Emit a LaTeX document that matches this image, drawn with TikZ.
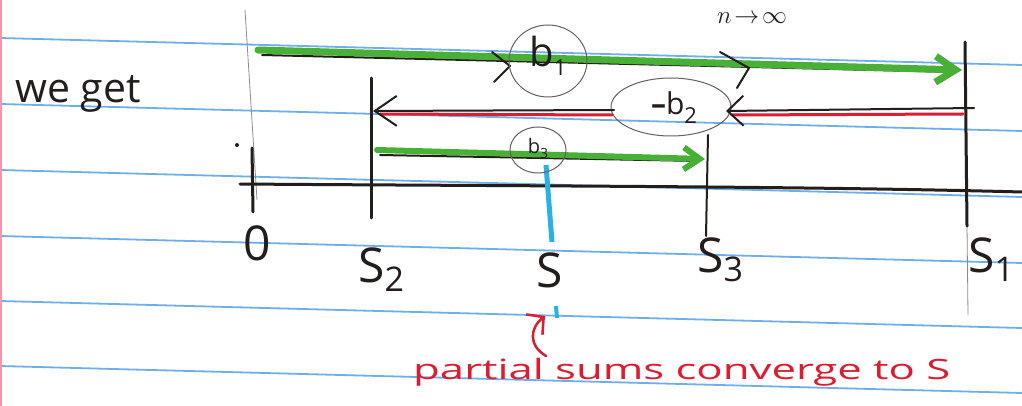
\documentclass[tikz,border=0pt]{standalone}
\usepackage{fontspec}
\setmainfont{Open Sans}
\usetikzlibrary{arrows.meta,shapes.geometric}
\definecolor{inkc}{RGB}{35,30,28}
\definecolor{greenc}{RGB}{72,175,55}
\definecolor{redc}{RGB}{222,28,48}
\definecolor{rulec}{RGB}{110,175,235}
\definecolor{cyanc}{RGB}{40,178,228}
\definecolor{pencilc}{RGB}{140,140,140}
\definecolor{marginc}{RGB}{245,150,170}
\begin{document}
\begin{tikzpicture}[x=1pt,y=-1pt,
  ink/.style={line width=3pt,color=inkc,line cap=round},
  thinink/.style={line width=2pt,color=inkc,line cap=round},
  rulestyle/.style={line width=1.8pt,color=rulec},
  pencil/.style={line width=0.8pt,color=pencilc},
  marker/.style={line width=7pt,color=greenc,line cap=round},
  redline/.style={line width=3pt,color=redc,line cap=round},
  bubble/.style={draw=inkc!70,line width=1pt,ellipse},
  chev/.style={thinink,line join=round},
  lbl/.style={inner sep=0pt,text=inkc,font=\fontsize{48}{50}\selectfont},
  redtxt/.style={inner sep=0pt,text=redc,font=\fontsize{28}{30}\selectfont}]
\useasboundingbox (0,0) rectangle (1022,406);
\fill[white] (0,0) rectangle (1022,406);
% ruled paper
\foreach \yy in {-28,38,104,170,236,301,366}
  \draw[rulestyle] (0,\yy) -- (1022,\yy+27);
\draw[line width=2pt,marginc] (1,0) -- (1,406);

% coordinates
\coordinate (NL) at (240,184);
\coordinate (NR) at (1022,192);
\coordinate (T0a) at (252,148);  \coordinate (T0b) at (253,212);
\coordinate (P0a) at (245,10);   \coordinate (P0b) at (257,200);
\coordinate (T2a) at (371,78);   \coordinate (T2b) at (371,218);
\coordinate (T3a) at (708,135);  \coordinate (T3b) at (706,236);
\coordinate (T1a) at (965,42);   \coordinate (T1b) at (967,226);
\coordinate (P1b) at (968,315);
\coordinate (TSa) at (546,165);  \coordinate (TSb) at (552,242);
\coordinate (TSc) at (556,306);  \coordinate (TSd) at (557,318);

% pencil guide lines
\draw[pencil] (P0a) -- (P0b);
\draw[pencil] (T1b) -- (P1b);
\fill[inkc] (237,145) circle (2pt);

% number line and ticks
\draw[ink] (NL) .. controls (500,186) and (800,186) .. (NR);
\draw[ink] (T0a) -- (T0b);
\draw[ink] (T2a) -- (T2b);
\draw[thinink] (T3a) -- (T3b);
\draw[ink] (T1a) -- (T1b);
\draw[line width=5pt,cyanc] (TSa) -- (TSb);
\draw[line width=4pt,cyanc] (TSc) -- (TSd);

% labels on axis
\node[lbl] (L0) at (257,243) {0};
\node[lbl,anchor=base west] (LS2) at (358,282) {S\raisebox{-9pt}{\fontsize{34}{36}\selectfont 2}};
\node[lbl,anchor=base] (LS) at (550,287) {S};
\node[lbl,anchor=base west] (LS3) at (697,272) {S\raisebox{-9pt}{\fontsize{34}{36}\selectfont 3}};
\node[lbl,anchor=base west] (LS1) at (968,272) {S\raisebox{-9pt}{\fontsize{34}{36}\selectfont 1}};

\node[inner sep=0pt,text=inkc,font=\fontsize{41}{44}\selectfont,anchor=base] (we) at (78,103) {we get};
\node[inner sep=0pt,text=inkc,font=\fontsize{27}{29}\selectfont,anchor=base] (lim) at (752,24) {$n\!\to\!\infty$};

% b1 arrow
\coordinate (B1s) at (258,50);
\coordinate (B1e) at (962,70);
\coordinate (B1ks) at (262,55);
\coordinate (B1ke) at (955,72);
\draw[thinink] (B1ks) -- (B1ke);
\draw[marker,-{Straight Barb[length=20pt,width=26pt]}] (B1s) -- (B1e);
\draw[chev] (492,52) -- (510,66) -- (494,82);
\draw[chev] (720,52) -- (749,68) -- (737,88);
\node[bubble,minimum width=78pt,minimum height=72pt] (C1) at (548,61) {};
\node[inner sep=0pt,text=inkc,font=\fontsize{40}{42}\selectfont] (b1) at (548,56) {b\raisebox{-9pt}{\fontsize{22}{24}\selectfont 1}};

% -b2 arrow
\node[bubble,minimum width=120pt,minimum height=58pt] (C2) at (671,107) {};
\node[inner sep=0pt,text=inkc,font=\fontsize{30}{32}\selectfont] (b2) at (674,108) {\textbf{--}b\raisebox{-9pt}{\fontsize{22}{24}\selectfont 2}};
\coordinate (B2rs) at (974,108);
\coordinate (B2re) at (726,111);
\coordinate (B2ls) at (614,110);
\coordinate (B2le) at (373,111);
\draw[redline] (963,114) -- (732,115);
\draw[redline] (612,115) -- (380,114);
\draw[thinink,-{Straight Barb[length=16pt,width=30pt,line width=2pt]}] (B2rs) -- (B2re);
\draw[thinink,-{Straight Barb[length=22pt,width=30pt,line width=2pt]}] (B2ls) -- (B2le);

% b3 arrow
\coordinate (B3s) at (377,150);
\coordinate (B3e) at (705,159);
\draw[thinink] (380,155) -- (700,161);
\draw[marker,line width=6pt,-{Straight Barb[length=16pt,width=22pt]}] (B3s) -- (B3e);
\node[bubble,minimum width=56pt,minimum height=46pt] (C3) at (538,150) {};
\node[inner sep=0pt,text=inkc,font=\fontsize{20}{22}\selectfont] (b3) at (538,148) {b\raisebox{-5pt}{\fontsize{14}{16}\selectfont 3}};

% red annotation
\node[redtxt,anchor=base west] (note) at (413,379) {\scalebox{1.56}[1]{partial sums converge to S}};
\coordinate (As) at (546,356);
\coordinate (Ae) at (545,316);
\draw[redline,line width=2.5pt,-{Straight Barb[length=12pt,width=26pt,line width=2.5pt]}] (As) .. controls (528,345) and (530,328) .. (Ae);
\end{tikzpicture}
\end{document}
